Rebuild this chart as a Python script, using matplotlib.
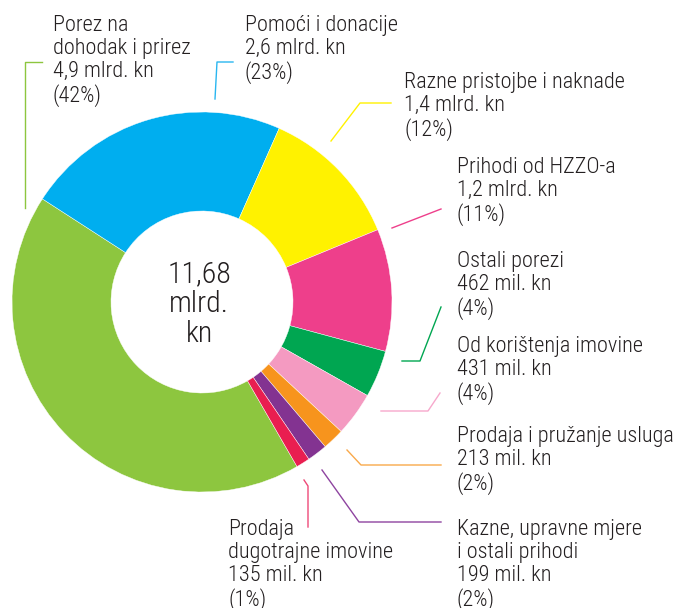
import numpy as np
import matplotlib
matplotlib.use('Agg')
import matplotlib.pyplot as plt
from matplotlib import font_manager

# data
names = ['Porez na\ndohodak i prirez', 'Pomoći i donacije', 'Razne pristojbe i naknade',
         'Prihodi od HZZO-a', 'Ostali porezi', 'Od korištenja imovine',
         'Prodaja i pružanje usluga', 'Kazne, upravne mjere\ni ostali prihodi',
         'Prodaja\ndugotrajne imovine']
values = [4.9, 2.6, 1.4, 1.2, 0.462, 0.431, 0.213, 0.199, 0.135]
amounts = ['4,9 mlrd. kn', '2,6 mlrd. kn', '1,4 mlrd. kn', '1,2 mlrd. kn', '462 mil. kn',
           '431 mil. kn', '213 mil. kn', '199 mil. kn', '135 mil. kn']
shares = ['42%', '23%', '12%', '11%', '4%', '4%', '2%', '2%', '1%']
total = '11,68\nmlrd.\nkn'

colors = ['#8dc63f', '#00aeef', '#fff200', '#ee3f8b', '#00a651', '#f49ac1',
          '#f7941d', '#833391', '#e91e50']
line_colors = ['#8dc63f', '#29b6f0', '#fff200', '#ee3f8b', '#00a651', '#f7a8cc',
               '#f9a94b', '#8e44a0', '#ee4a78']

# layout in pixels (image coords, y down)
W, H = 676, 608
cx, cy, r_out, r_in = 202, 302, 190, 91
label_pos = [(53, 15), (245, 15), (404, 72), (457, 157), (457, 251), (457, 336),
             (457, 426), (457, 519), (228, 519)]
leaders = [
    [(42, 62), (25, 62), (25, 208)],
    [(233, 62), (217, 62), (215, 99)],
    [(391, 103), (360, 103), (331, 141)],
    [(441, 209), (392, 228)],
    [(441, 307), (420, 361), (402, 361)],
    [(440, 393), (428, 411), (381, 411)],
    [(347, 450), (361, 465), (441, 465)],
    [(322, 470), (359, 522), (441, 522)],
    [(304, 480), (308, 486), (308, 527)],
]

fam = 'DejaVu Sans'
for cand in ['Roboto Condensed', 'Encode Sans Condensed', 'Asap Condensed',
             'Barlow Semi Condensed', 'PT Sans Narrow', 'Archivo Narrow']:
    try:
        font_manager.findfont(cand, fallback_to_default=False)
        fam = cand
        break
    except Exception:
        pass
plt.rcParams['font.family'] = [fam, 'DejaVu Sans']
plt.rcParams['font.weight'] = 'light'

fig = plt.figure(figsize=(W / 100, H / 100), dpi=100)
ax = fig.add_axes([0, 0, 1, 1])

ax.pie(values, colors=colors, startangle=300, counterclock=False,
       center=(cx, H - cy), radius=r_out,
       wedgeprops=dict(width=r_out - r_in, edgecolor='white', linewidth=0.3))
ax.set_xlim(0, W)
ax.set_ylim(0, H)
ax.set_aspect('equal')
ax.axis('off')

ax.text(cx - 3, H - cy - 2, total, ha='center', va='center', fontsize=21.5,
        linespacing=1.1, color='#231f20')

for i in range(len(names)):
    txt = names[i] + '\n' + amounts[i] + '\n(' + shares[i] + ')'
    x0, y0 = label_pos[i]
    ax.text(x0, H - y0, txt, ha='left', va='top', fontsize=16,
            linespacing=1.12, color='#231f20')
    pts = np.array(leaders[i], dtype=float)
    ax.plot(pts[:, 0], H - pts[:, 1], color=line_colors[i], lw=1)

fig.savefig('out.png', dpi=100)
